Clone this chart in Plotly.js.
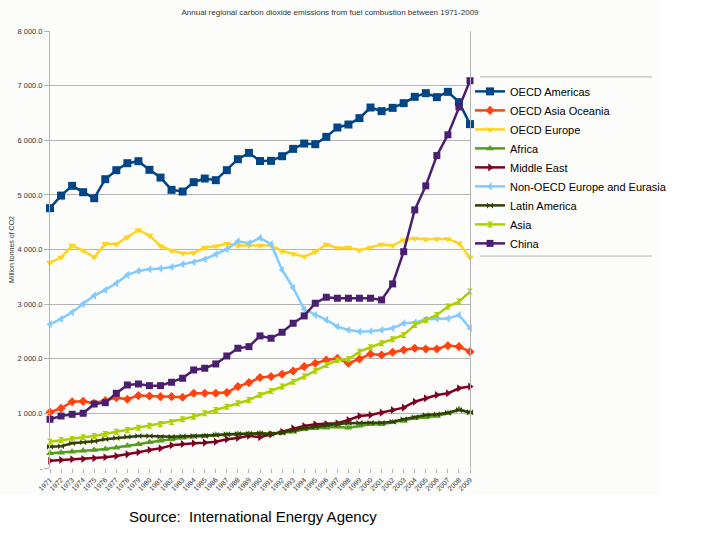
<!DOCTYPE html>
<html>
<head>
<meta charset="utf-8">
<script src="https://cdn.plot.ly/plotly-3.0.1.min.js"></script>
<style>html,body{margin:0;padding:0;background:#fff;}#chart{width:720px;height:540px;}</style>
</head>
<body>
<div id="chart"></div>
<script>
const years = [1971,1972,1973,1974,1975,1976,1977,1978,1979,1980,1981,1982,1983,1984,1985,1986,1987,1988,1989,1990,1991,1992,1993,1994,1995,1996,1997,1998,1999,2000,2001,2002,2003,2004,2005,2006,2007,2008,2009];
const seriesNames = ["OECD Americas","OECD Asia Oceania","OECD Europe","Africa","Middle East","Non-OECD Europe and Eurasia","Latin America","Asia","China"];
const oecdAmericas = [4756,4987,5165,5049,4939,5287,5452,5580,5617,5458,5317,5092,5061,5232,5299,5269,5452,5653,5769,5620,5623,5708,5842,5940,5928,6062,6233,6288,6405,6599,6533,6593,6679,6795,6862,6789,6886,6698,6295];
const oecdAsiaOceania = [1020,1093,1214,1220,1184,1233,1288,1258,1325,1319,1306,1306,1294,1368,1368,1368,1380,1490,1563,1658,1673,1716,1777,1856,1917,1978,2009,1917,1996,2088,2070,2119,2161,2192,2179,2179,2240,2222,2130];
const oecdEurope = [3760,3852,4071,3980,3859,4103,4097,4225,4359,4255,4066,3980,3932,3938,4035,4060,4103,4071,4071,4071,4071,3969,3919,3870,3956,4090,4029,4035,3987,4035,4090,4071,4176,4200,4188,4194,4194,4115,3852];
const africa = [269,281,299,317,330,348,372,408,433,470,500,525,555,573,586,604,610,623,629,635,623,641,665,708,727,739,757,739,775,800,800,836,861,910,928,952,1002,1075,1013];
const middleEast = [134,147,159,165,177,196,220,250,287,330,360,415,440,452,464,482,525,550,590,565,615,665,727,769,800,806,818,879,952,971,1013,1062,1105,1214,1276,1337,1368,1460,1490];
const nonOecdEurope = [2631,2729,2851,3004,3156,3260,3382,3535,3608,3639,3650,3681,3730,3767,3822,3913,4005,4150,4115,4212,4097,3626,3300,2906,2802,2711,2589,2527,2497,2503,2527,2558,2650,2662,2723,2735,2735,2802,2558];
const latinAmerica = [391,400,452,470,488,525,549,573,586,586,573,573,580,586,586,604,616,623,629,635,623,647,684,727,757,788,806,818,830,830,830,848,892,928,971,983,1013,1062,1020];
const asia = [482,513,531,562,586,623,665,696,738,775,806,842,892,940,1002,1062,1123,1184,1245,1337,1410,1490,1581,1673,1782,1886,1978,1990,2130,2210,2283,2357,2436,2619,2711,2802,2955,3046,3230];
const china = [892,952,983,1002,1172,1196,1368,1520,1538,1508,1508,1569,1643,1795,1826,1905,2051,2192,2222,2418,2375,2485,2650,2784,3016,3126,3108,3108,3108,3108,3077,3370,3960,4725,5165,5720,6100,6610,7090];
const yTickVals = [0,1000,2000,3000,4000,5000,6000,7000,8000];
const yTickText = ["-","1 000.0","2 000.0","3 000.0","4 000.0","5 000.0","6 000.0","7 000.0","8 000.0"];

const allValues = [oecdAmericas,oecdAsiaOceania,oecdEurope,africa,middleEast,nonOecdEurope,latinAmerica,asia,china];
const colors = ["#004586","#ff420e","#ffd320","#579d1c","#7e0021","#83caff","#314004","#aecf00","#4b1f6f"];
const symbols = ["square","diamond","triangle-down","triangle-up","triangle-right","triangle-left","bowtie","hourglass","square"];
const sizes = [8,7,7,7,7,7,6,6,7];

const traces = allValues.map((vals, i) => ({
  type: "scatter",
  mode: "lines+markers",
  name: seriesNames[i],
  x: years,
  y: vals,
  cliponaxis: false,
  line: {color: colors[i], width: 2.5},
  marker: {color: colors[i], symbol: symbols[i], size: sizes[i]}
}));

const font = "Liberation Sans, Arial, sans-serif";
const layout = {
  width: 720, height: 540,
  paper_bgcolor: "#ffffff",
  plot_bgcolor: "rgba(0,0,0,0)",
  margin: {l: 50, r: 250, t: 31, b: 72, pad: 0},
  font: {family: font, color: "#333333", size: 7},
  title: {text: "Annual regional carbon dioxide emissions from fuel combustion between 1971-2009",
          font: {family: font, size: 8, color: "#333333"},
          x: 330/720, xanchor: "center", y: 1 - 12/540, yanchor: "middle"},
  xaxis: {
    range: [1971, 2009], tickmode: "array", tickvals: years, ticktext: years.map(String),
    tickangle: -45, ticks: "outside", ticklen: 4, tickcolor: "#b3b3b3",
    showgrid: false, zeroline: false, showline: false,
    tickfont: {family: font, size: 7, color: "#333333"}
  },
  yaxis: {
    range: [0, 8000], tickmode: "array", tickvals: yTickVals, ticktext: yTickText,
    ticks: "outside", ticklen: 5, tickcolor: "#b3b3b3",
    showgrid: true, gridcolor: "#b3b3b3", gridwidth: 1,
    zeroline: false, showline: true, linecolor: "#b3b3b3", linewidth: 1, mirror: true,
    tickfont: {family: font, size: 7.5, color: "#333333"},
    title: {text: "Million tonnes of CO2", font: {family: font, size: 7, color: "#333333"}, standoff: 2}
  },
  showlegend: true,
  legend: {
    x: 1.0, xanchor: "left", y: 0.895, yanchor: "top",
    font: {family: font, size: 11, color: "#000000"},
    bgcolor: "rgba(0,0,0,0)", borderwidth: 0, tracegroupgap: 0
  },
  shapes: [
    {type: "rect", xref: "paper", yref: "paper", x0: -0.119, x1: 1.452, y0: -0.062, y1: 1.071,
     fillcolor: "#fcfdfb", line: {width: 0}, layer: "below"},
    {type: "line", xref: "paper", yref: "paper", x0: 1.024, x1: 1.433, y0: 0.895, y1: 0.895,
     line: {color: "#b3b3b3", width: 1}},
    {type: "line", xref: "paper", yref: "paper", x0: 1.024, x1: 1.433, y0: 0.485, y1: 0.485,
     line: {color: "#b3b3b3", width: 1}}
  ],
  annotations: [
    {text: "Source:  International Energy Agency", xref: "paper", yref: "paper",
     x: (127-50)/420, xanchor: "left", y: (468-516)/437, yanchor: "middle", showarrow: false,
     font: {family: font, size: 15, color: "#000000"}}
  ]
};

Plotly.newPlot("chart", traces, layout, {displayModeBar: false, staticPlot: true});
</script>
</body>
</html>
